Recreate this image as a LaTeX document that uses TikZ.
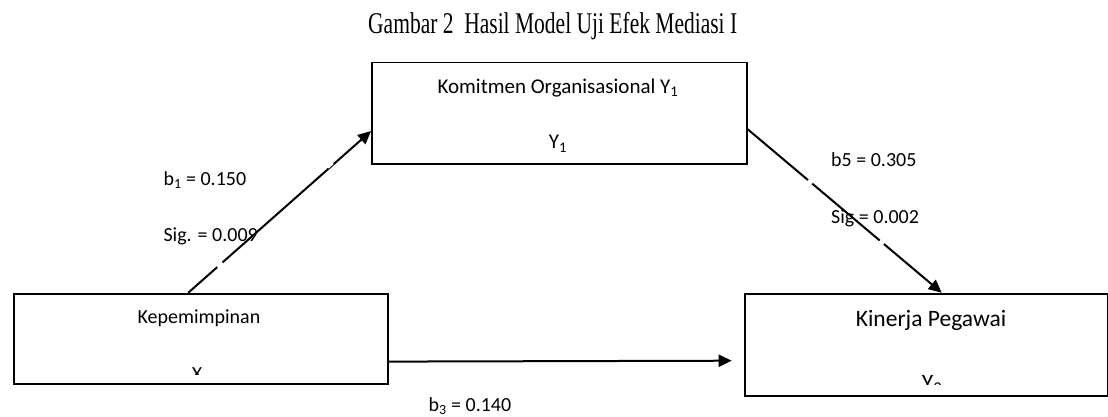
\documentclass[tikz,border=0pt]{standalone}
\usepackage{fontspec}
\setmainfont{Carlito}
\newfontfamily\timesf{Liberation Serif}
\usetikzlibrary{arrows.meta}
\begin{document}
\begin{tikzpicture}[x=1pt,y=-1pt,
  box/.style={draw, line width=1.8pt, inner sep=0pt, anchor=north west},
  lbl/.style={inner sep=0pt, anchor=base west, font=\fontsize{20}{24}\selectfont},
  ctr/.style={inner sep=0pt, anchor=base, font=\fontsize{20}{24}\selectfont},
  arr/.style={line width=2pt, -{Triangle[length=13pt,width=12pt]}},
  gap/.style={white, line width=3.5pt}]
\useasboundingbox (0,0) rectangle (1108,417);
\fill[white] (0,0) rectangle (1108,417);

% title
\node[inner sep=0pt, anchor=base west, font=\timesf\fontsize{21.5}{26}\selectfont] (title) at (368,34) {\scalebox{1.0}[1.4]{Gambar 2\ \ Hasil Model Uji Efek Mediasi I}};

% boxes
\node[box, minimum width=374.7pt, minimum height=101pt] (b1) at (371,61.7) {};
\node[box, minimum width=374pt, minimum height=90.6pt] (b2) at (12.7,292.7) {};
\node[box, minimum width=362.7pt, minimum height=102.3pt] (b3) at (744.3,292.7) {};

% box texts
\node[ctr, font=\fontsize{21}{25}\selectfont] (t1a) at (558,93.3) {Komitmen Organisasional Y\textsubscript{1}};
\node[ctr, font=\fontsize{21}{25}\selectfont] (t1b) at (558,149) {Y\textsubscript{1}};
\node[ctr] (t2a) at (199,323.3) {Kepemimpinan};
\begin{scope}
\clip (0,0) rectangle (1108,374);
\node[ctr] (t2b) at (197,380) {X};
\end{scope}
\node[ctr, font=\fontsize{23.5}{28}\selectfont] (t3a) at (931,326.7) {Kinerja Pegawai};
\begin{scope}
\clip (0,0) rectangle (1108,384);
\node[ctr, font=\fontsize{23.5}{28}\selectfont] (t3b) at (932,390) {Y\textsubscript{2}};
\end{scope}

% labels
\node[lbl] (l1) at (163.3,185) {b\textsubscript{1} = 0.150};
\node[lbl] (l2) at (163.3,241.7) {Sig. = 0.009};
\node[lbl] (l3) at (831,166) {b5 = 0.305};
\node[lbl] (l4) at (831,223.3) {Sig = 0.002};
\node[lbl] (l5) at (428.3,411.5) {b\textsubscript{3} = 0.140};

% connectors
\coordinate (hend) at (731.7,360.7);
\draw[arr] ([xshift=175.6pt]b2.north west) -- ([yshift=-18pt]b1.west);
\draw[arr] ([yshift=-16pt]b1.east) -- ([xshift=197.4pt]b3.north west);
\draw[arr] ([yshift=-22.7pt]b2.east) -- (hend);

% small gaps in the diagonal lines
\draw[gap] (327.5,167.2) -- (332.5,162.8);
\draw[gap] (217.5,267.2) -- (222.5,262.8);
\draw[gap] (808,180.3) -- (812,183.7);
\draw[gap] (880,240.3) -- (884,243.7);
\end{tikzpicture}
\end{document}
